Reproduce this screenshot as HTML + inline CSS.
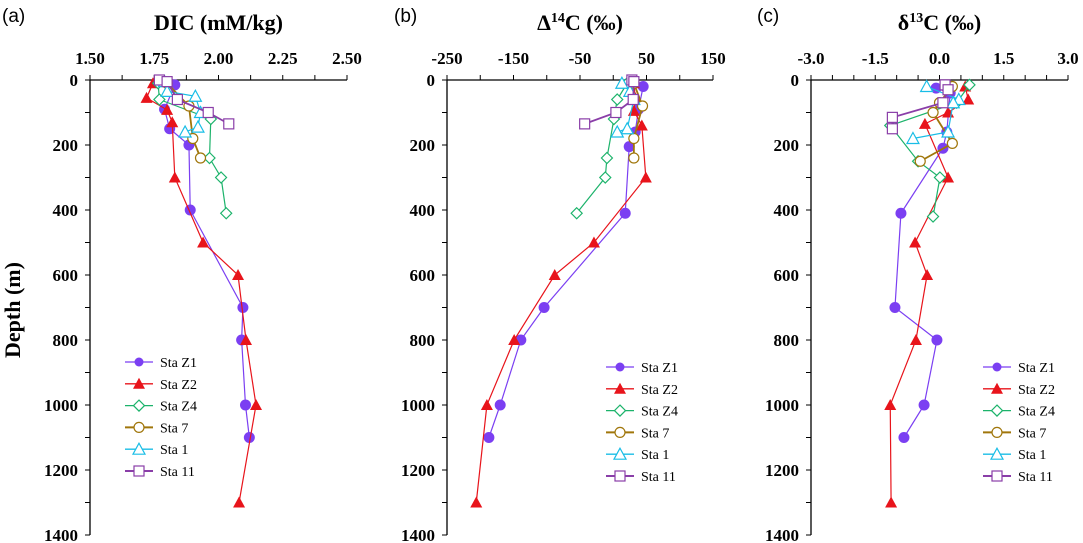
<!DOCTYPE html>
<html><head><meta charset="utf-8">
<style>
html,body{margin:0;padding:0;background:#fff;}
svg{display:block;}
.tk{font-family:"Liberation Serif",serif;font-weight:bold;font-size:17px;fill:#000;}
.tt{font-family:"Liberation Serif",serif;font-weight:bold;font-size:22px;fill:#000;}
.pl{font-family:"Liberation Sans",sans-serif;font-size:19px;fill:#000;}
.lg{font-family:"Liberation Serif",serif;font-size:14px;fill:#000;}
</style></head>
<body>
<svg id="chart" width="1083" height="543" viewBox="0 0 1083 543" xmlns="http://www.w3.org/2000/svg">
<text class="tt" x="0" y="0" transform="translate(20,310) rotate(-90)" text-anchor="middle">Depth (m)</text>
</svg>
<script>
// ---- data ----
const stations = ["Sta Z1","Sta Z2","Sta Z4","Sta 7","Sta 1","Sta 11"];
const depthTicks = [0,200,400,600,800,1000,1200,1400];
// Panel a: DIC
const dicTicks = ["1.50","1.75","2.00","2.25","2.50"];
const dicZ1D = [15,90,150,200,400,700,800,1000,1100];
const dicZ1V = [1.83,1.79,1.81,1.885,1.89,2.095,2.09,2.105,2.12];
const dicZ2D = [10,55,92,130,300,500,600,800,1000,1300];
const dicZ2V = [1.745,1.72,1.80,1.82,1.83,1.94,2.076,2.107,2.146,2.08];
const dicZ4D = [10,60,120,240,300,410];
const dicZ4V = [1.765,1.77,1.97,1.965,2.01,2.03];
const dic7D = [10,80,180,240];
const dic7V = [1.80,1.885,1.90,1.93];
const dic1D = [5,35,50,100,145,160];
const dic1V = [1.79,1.80,1.91,1.93,1.92,1.87];
const dic11D = [0,5,60,100,135];
const dic11V = [1.77,1.80,1.84,1.96,2.04];
// Panel b: D14C
const c14Ticks = ["-250","-150","-50","50","150"];
const c14Z1D = [20,90,160,205,410,700,800,1000,1100];
const c14Z1V = [45,38,33,24,18,-104,-139,-170,-187];
const c14Z2D = [10,55,95,140,300,500,600,800,1000,1300];
const c14Z2V = [31,33,31,43,49,-29,-88,-149,-190,-206];
const c14Z4D = [10,60,120,240,300,410];
const c14Z4V = [21,6,1,-9.5,-12,-55];
const c147D = [10,80,180,240];
const c147V = [31,44,31,31];
const c141D = [10,35,60,150,160];
const c141V = [13,25,31,21,6];
const c1411D = [0,5,60,100,135];
const c1411V = [28,31,30,4,-43];
// Panel c: d13C
const c13Ticks = ["-3.0","-1.5","0.0","1.5","3.0"];
const c13Z1D = [25,40,160,210,410,700,800,1000,1100];
const c13Z1V = [-0.08,0.25,0.17,0.08,-0.9,-1.04,-0.06,-0.36,-0.83];
const c13Z2D = [20,60,100,135,300,500,600,800,1000,1300];
const c13Z2V = [0.6,0.67,0.2,-0.34,0.2,-0.57,-0.29,-0.55,-1.15,-1.13];
const c13Z4D = [15,70,140,250,300,420];
const c13Z4V = [0.7,0.4,-1.15,-0.5,0.01,-0.15];
const c137D = [20,70,100,195,250];
const c137V = [0.3,0.0,-0.15,0.3,-0.45];
const c131D = [20,60,70,160,180];
const c131V = [-0.3,0.45,0.32,0.2,-0.62];
const c1311D = [15,30,70,115,150];
const c1311V = [0.13,0.2,0.08,-1.1,-1.1];

const colors = ["#7b3ff2","#e8141b","#1cb36b","#a0760b","#19bde6","#8a3ea8"];
const markers = ["circle","tri","diamond","ocircle","otri","square"];

const NS="http://www.w3.org/2000/svg";
const svg=document.getElementById('chart');
function mk(tag,attrs,parent){const e=document.createElementNS(NS,tag);for(const k in attrs)e.setAttribute(k,attrs[k]);(parent||svg).appendChild(e);return e;}

const Y0=80, Y1=535;
function yS(d){return Y0+(d/1400)*(Y1-Y0);}

function marker(g,kind,x,y,c){
  let e;
  if(kind==="circle"){e=mk('circle',{cx:x,cy:y,r:5.5,fill:c},g);}
  else if(kind==="tri"){e=mk('polygon',{points:`${x},${y-6} ${x-6},${y+5} ${x+6},${y+5}`,fill:c},g);}
  else if(kind==="diamond"){e=mk('polygon',{points:`${x},${y-5.5} ${x+5.5},${y} ${x},${y+5.5} ${x-5.5},${y}`,fill:'#fff',stroke:c,'stroke-width':1.2},g);}
  else if(kind==="ocircle"){e=mk('circle',{cx:x,cy:y,r:5,fill:'#fff',stroke:c,'stroke-width':1.2},g);}
  else if(kind==="otri"){e=mk('polygon',{points:`${x},${y-6} ${x-6},${y+5} ${x+6},${y+5}`,fill:'#fff',stroke:c,'stroke-width':1.2},g);}
  else {e=mk('rect',{x:x-5,y:y-5,width:10,height:10,fill:'#fff',stroke:c,'stroke-width':1.2},g);}
  return e;
}

function panel(cfg){
  const {xl,xr,vmin,vmax,ticks,minorStep,title,letter,letterX,series,legX,key}=cfg;
  const xS=v=>xl+(v-vmin)/(vmax-vmin)*(xr-xl);
  const g=mk('g',{});
  
  
  const lt=mk('text',{class:'pl',x:letterX,y:22},g);lt.textContent=letter;
  
  
  const tt=mk('text',{class:'tt',x:(xl+xr)/2,y:30,'text-anchor':'middle'},g);tt.innerHTML=title;
  
  
  // x axis
  const xa=mk('g',{},g);
  
  
  mk('line',{x1:xl,y1:Y0,x2:xr,y2:Y0,stroke:'#000','stroke-width':1.3},xa);
  for(let v=vmin;v<=vmax+1e-9;v+=minorStep){const x=xS(v);mk('line',{x1:x,y1:Y0,x2:x,y2:Y0-5,stroke:'#000','stroke-width':1},xa);}
  ticks.forEach(t=>{const v=parseFloat(t);const tx=mk('text',{class:'tk',x:xS(v),y:64,'text-anchor':'middle'},xa);tx.textContent=t;
    
    });
  // y axis
  const ya=mk('g',{},g);
  
  
  mk('line',{x1:xl,y1:Y0,x2:xl,y2:Y1,stroke:'#000','stroke-width':1.3},ya);
  for(let d=0;d<=1400;d+=100){mk('line',{x1:xl,y1:yS(d),x2:xl-5,y2:yS(d),stroke:'#000','stroke-width':1},ya);}
  depthTicks.forEach(d=>{const tx=mk('text',{class:'tk',x:xl-12,y:yS(d)+6,'text-anchor':'end'},ya);tx.textContent=d;
    
    });
  // series
  series.forEach((s,i)=>{
    const sg=mk('g',{},g);
    
    
    const pts=s[0].map((d,j)=>[xS(s[1][j]),yS(d)]);
    mk('polyline',{points:pts.map(p=>p.join(',')).join(' '),fill:'none',stroke:colors[i],'stroke-width':(i===3||i===5)?1.8:1.2},sg);
    pts.forEach(p=>{const m=marker(sg,markers[i],p[0],p[1],colors[i]);
      
      });
  });
  // legend
  const lg=mk('g',{},g);
  
  
  stations.forEach((s,i)=>{
    const y=cfg.legY+i*21.8;
    const eg=mk('g',{},lg);
    
    
    mk('line',{x1:legX,y1:y,x2:legX+28,y2:y,stroke:colors[i],'stroke-width':(i===3||i===5)?2:1.3},eg);
    const m=marker(eg,markers[i],legX+14,y,colors[i]);
    if(markers[i]==="circle")m.setAttribute('r',4.5);
    const t=mk('text',{class:'lg',x:legX+35,y:y+5},eg);t.textContent=s;
  });
}

panel({key:'dic',xl:90,xr:347,vmin:1.5,vmax:2.5,ticks:dicTicks,minorStep:0.125,title:'DIC (mM/kg)',letter:'(a)',letterX:2,legX:125,legY:362,
  series:[[dicZ1D,dicZ1V],[dicZ2D,dicZ2V],[dicZ4D,dicZ4V],[dic7D,dic7V],[dic1D,dic1V],[dic11D,dic11V]]});
panel({key:'d14c',xl:447,xr:713,vmin:-250,vmax:150,ticks:c14Ticks,minorStep:50,title:'Δ<tspan dy="-8" font-size="14">14</tspan><tspan dy="8">C (‰)</tspan>',letter:'(b)',letterX:394,legX:606,legY:367,
  series:[[c14Z1D,c14Z1V],[c14Z2D,c14Z2V],[c14Z4D,c14Z4V],[c147D,c147V],[c141D,c141V],[c1411D,c1411V]]});
panel({key:'d13c',xl:811,xr:1068,vmin:-3,vmax:3,ticks:c13Ticks,minorStep:0.5,title:'δ<tspan dy="-8" font-size="14">13</tspan><tspan dy="8">C (‰)</tspan>',letter:'(c)',letterX:757,legX:983,legY:367,
  series:[[c13Z1D,c13Z1V],[c13Z2D,c13Z2V],[c13Z4D,c13Z4V],[c137D,c137V],[c131D,c131V],[c1311D,c1311V]]});
</script>
</body></html>
